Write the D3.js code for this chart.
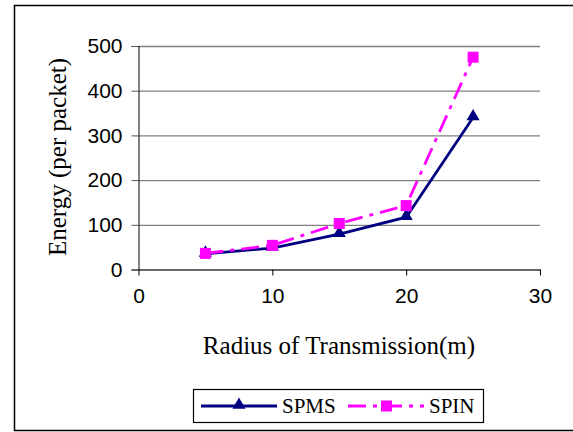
<!DOCTYPE html>
<html>
<head>
<meta charset="utf-8">
<script src="https://cdn.jsdelivr.net/npm/d3@7"></script>
<style>
  html, body { margin: 0; padding: 0; background: #fff; }
</style>
</head>
<body>
<div id="chart"></div>
<script>
const radius = [5, 10, 15, 20, 25];
const spms = [35, 48, 79, 117, 340];
const spin = [36, 54, 103, 143, 475];
const xTicks = [0, 10, 20, 30];
const yTicks = [0, 100, 200, 300, 400, 500];

const width = 573;
const height = 432;

const svg = d3.select("#chart").append("svg")
    .attr("width", width)
    .attr("height", height);

// outer frame
svg.append("rect")
    .attr("x", 14.5)
    .attr("y", 5.5)
    .attr("width", 600)
    .attr("height", 425)
    .attr("fill", "none")
    .attr("stroke", "#000")
    .attr("stroke-width", 1.5);

const x = d3.scaleLinear().domain([0, 30]).range([138.5, 540]);
const y = d3.scaleLinear().domain([0, 500]).range([269.5, 46]);

// gridlines
svg.append("g")
    .attr("transform", "translate(138.5,0)")
    .call(d3.axisLeft(y).tickValues(yTicks).tickSize(-(540 - 138.5)).tickFormat(""))
    .call(g => g.select(".domain").remove())
    .call(g => g.selectAll("line").attr("stroke", "#808080").attr("stroke-width", 1.3));

// y axis
svg.append("g")
    .attr("transform", "translate(138.5,0)")
    .call(d3.axisLeft(y).tickValues(yTicks).tickSize(7).tickPadding(9))
    .call(g => g.select(".domain").attr("stroke", "#000"))
    .call(g => g.selectAll("line").attr("stroke", "#555"))
    .call(g => g.selectAll("text")
        .attr("font-family", "Liberation Sans, Arial, sans-serif")
        .attr("font-size", 21)
        .attr("fill", "#000"));

// x axis
svg.append("g")
    .attr("transform", "translate(0,269.5)")
    .call(d3.axisBottom(x).tickValues(xTicks).tickSize(6).tickSizeOuter(0).tickPadding(13))
    .call(g => g.select(".domain").attr("stroke", "#555").attr("stroke-width", 1.3))
    .call(g => g.selectAll("line").attr("stroke", "#000"))
    .call(g => g.selectAll("text")
        .attr("font-family", "Liberation Sans, Arial, sans-serif")
        .attr("font-size", 21)
        .attr("fill", "#000"));

// axis titles
svg.append("text")
    .attr("transform", "translate(66,157) rotate(-90)")
    .attr("text-anchor", "middle")
    .attr("font-family", "Liberation Serif, Times New Roman, serif")
    .attr("font-size", 25)
    .text("Energy (per packet)");

svg.append("text")
    .attr("x", 339)
    .attr("y", 354)
    .attr("text-anchor", "middle")
    .attr("font-family", "Liberation Serif, Times New Roman, serif")
    .attr("font-size", 25)
    .text("Radius of Transmission(m)");

const navy = "#000080";
const magenta = "#ff00ff";
const spinDash = "18,7,4,7";

const line = d3.line()
    .x(d => x(d[0]))
    .y(d => y(d[1]));

const triangle = d3.symbol().type(d3.symbolTriangle).size(75);

// SPMS
svg.append("path")
    .datum(radius.map((r, i) => [r, spms[i]]))
    .attr("d", line)
    .attr("fill", "none")
    .attr("stroke", navy)
    .attr("stroke-width", 2.8);

svg.selectAll(".spms-pt")
    .data(radius.map((r, i) => [r, spms[i]]))
    .enter().append("path")
    .attr("class", "spms-pt")
    .attr("transform", d => `translate(${x(d[0])},${y(d[1]) - 1})`)
    .attr("d", triangle)
    .attr("fill", navy);

// SPIN
svg.append("path")
    .datum(radius.map((r, i) => [r, spin[i]]))
    .attr("d", line)
    .attr("fill", "none")
    .attr("stroke", magenta)
    .attr("stroke-width", 2.8)
    .attr("stroke-dasharray", spinDash);

svg.selectAll(".spin-pt")
    .data(radius.map((r, i) => [r, spin[i]]))
    .enter().append("rect")
    .attr("class", "spin-pt")
    .attr("x", d => x(d[0]) - 5.5)
    .attr("y", d => y(d[1]) - 5.5)
    .attr("width", 11)
    .attr("height", 11)
    .attr("fill", magenta);

// legend
const legend = svg.append("g");
legend.append("rect")
    .attr("x", 193.5)
    .attr("y", 389.5)
    .attr("width", 290)
    .attr("height", 33)
    .attr("fill", "#fff")
    .attr("stroke", "#000")
    .attr("stroke-width", 1.2);

const ly = 406;
legend.append("line")
    .attr("x1", 201).attr("x2", 277)
    .attr("y1", ly).attr("y2", ly)
    .attr("stroke", navy).attr("stroke-width", 2.8);
legend.append("path")
    .attr("transform", `translate(239,${ly - 1})`)
    .attr("d", triangle)
    .attr("fill", navy);
legend.append("text")
    .attr("x", 282).attr("y", ly + 7)
    .attr("font-family", "Liberation Serif, Times New Roman, serif")
    .attr("font-size", 21)
    .text("SPMS");

legend.append("line")
    .attr("x1", 348).attr("x2", 424)
    .attr("y1", ly).attr("y2", ly)
    .attr("stroke", magenta).attr("stroke-width", 2.8)
    .attr("stroke-dasharray", spinDash);
legend.append("rect")
    .attr("x", 381).attr("y", ly - 5.5)
    .attr("width", 11).attr("height", 11)
    .attr("fill", magenta);
legend.append("text")
    .attr("x", 429).attr("y", ly + 7)
    .attr("font-family", "Liberation Serif, Times New Roman, serif")
    .attr("font-size", 21)
    .text("SPIN");
</script>
</body>
</html>
